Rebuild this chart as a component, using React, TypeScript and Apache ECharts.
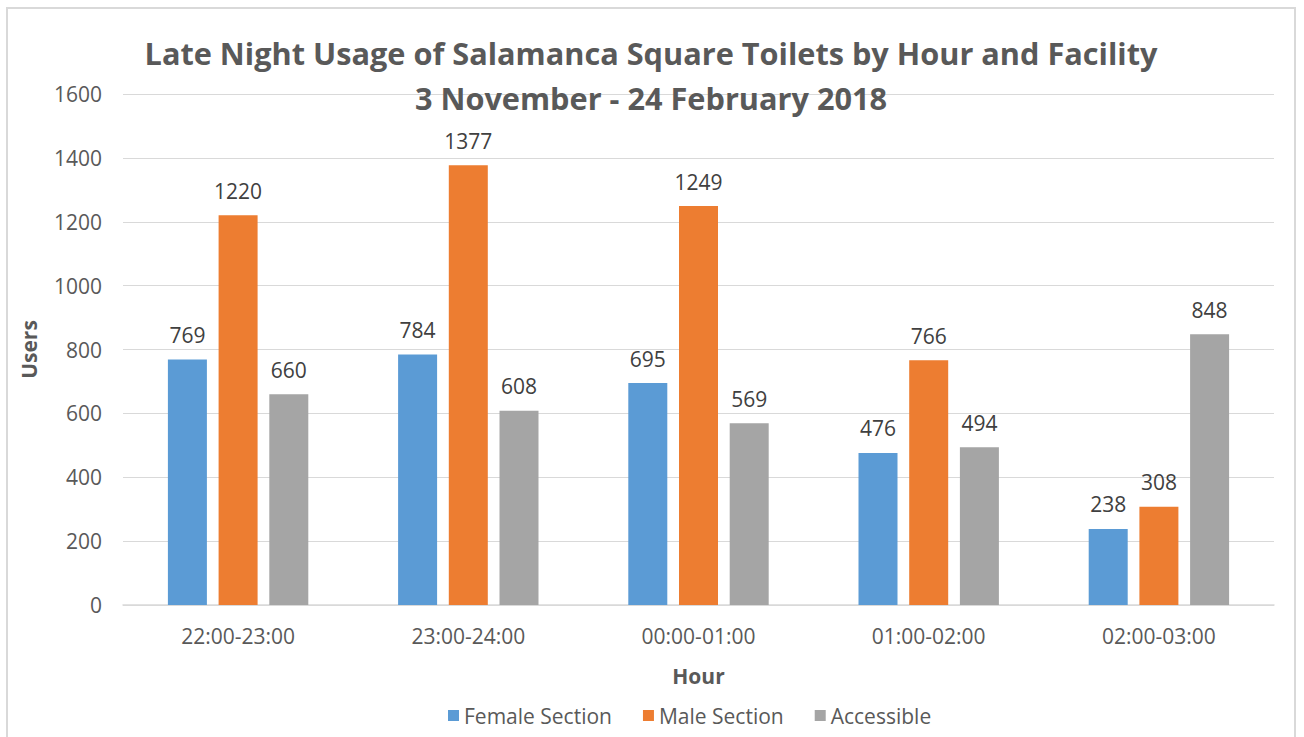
import React, { useEffect, useRef } from "react";
import * as echarts from "echarts";

const hours = ["22:00-23:00", "23:00-24:00", "00:00-01:00", "01:00-02:00", "02:00-03:00"];
const female = [769, 784, 695, 476, 238];
const male = [1220, 1377, 1249, 766, 308];
const accessible = [660, 608, 569, 494, 848];
const seriesNames = ["Female Section", "Male Section", "Accessible"];
const colors = ["#5b9bd5", "#ed7d31", "#a5a5a5"];

const FONT = "'Open Sans', sans-serif";

export default function App() {
  const ref = useRef<HTMLDivElement>(null);
  useEffect(() => {
    if (!ref.current) return;
    const chart = echarts.init(ref.current, undefined, { renderer: "svg" });
    const label = {
      show: true,
      position: "top" as const,
      distance: 14,
      color: "#404040",
      fontSize: 21,
      fontFamily: FONT,
    };
    const datas = [female, male, accessible];
    chart.setOption({
      animation: false,
      backgroundColor: "#ffffff",
      title: {
        text: "Late Night Usage of Salamanca Square Toilets by Hour and Facility\n3 November - 24 February 2018",
        left: 646,
        textAlign: "center",
        top: 25,
        textStyle: {
          fontSize: 30.7,
          fontWeight: "bold",
          color: "#595959",
          fontFamily: FONT,
          lineHeight: 45,
        },
      },
      graphic: [
        {
          type: "rect",
          shape: { x: 7, y: 8, width: 1288, height: 740 },
          style: { fill: "none", stroke: "#d9d9d9", lineWidth: 2 },
          silent: true,
        },
      ],
      legend: {
        bottom: 6,
        left: 443,
        itemWidth: 11,
        itemHeight: 11,
        itemGap: 31,
        icon: "rect",
        textStyle: { fontSize: 21, color: "#595959", fontFamily: FONT },
        data: seriesNames,
      },
      grid: { left: 123, right: 30, top: 94, bottom: 132, containLabel: false },
      xAxis: {
        type: "category",
        data: hours,
        axisLine: { lineStyle: { color: "#d9d9d9", width: 1.5 } },
        axisTick: { show: false },
        axisLabel: { fontSize: 21, color: "#595959", margin: 20, fontFamily: FONT },
        name: "Hour",
        nameLocation: "middle",
        nameGap: 60,
        nameTextStyle: { fontSize: 21, fontWeight: "bold", color: "#595959", fontFamily: FONT },
      },
      yAxis: {
        type: "value",
        min: 0,
        max: 1600,
        interval: 200,
        axisLine: { show: false },
        axisTick: { show: false },
        splitLine: { lineStyle: { color: "#d9d9d9", width: 1 } },
        axisLabel: {
          fontSize: 21,
          color: "#595959",
          margin: 21,
          fontFamily: FONT,
          formatter: (v: number) => String(v),
        },
        name: "Users",
        nameLocation: "middle",
        nameGap: 84,
        nameRotate: 90,
        nameTextStyle: { fontSize: 21, fontWeight: "bold", color: "#595959", fontFamily: FONT },
      },
      series: seriesNames.map((name, i) => ({
        name,
        type: "bar",
        data: datas[i],
        barWidth: 39,
        barGap: "30%",
        itemStyle: { color: colors[i] },
        label,
      })),
    });
    return () => chart.dispose();
  }, []);
  return (
    <div
      ref={ref}
      style={{ position: "absolute", left: 0, top: 0, width: 1304, height: 737 }}
    />
  );
}
